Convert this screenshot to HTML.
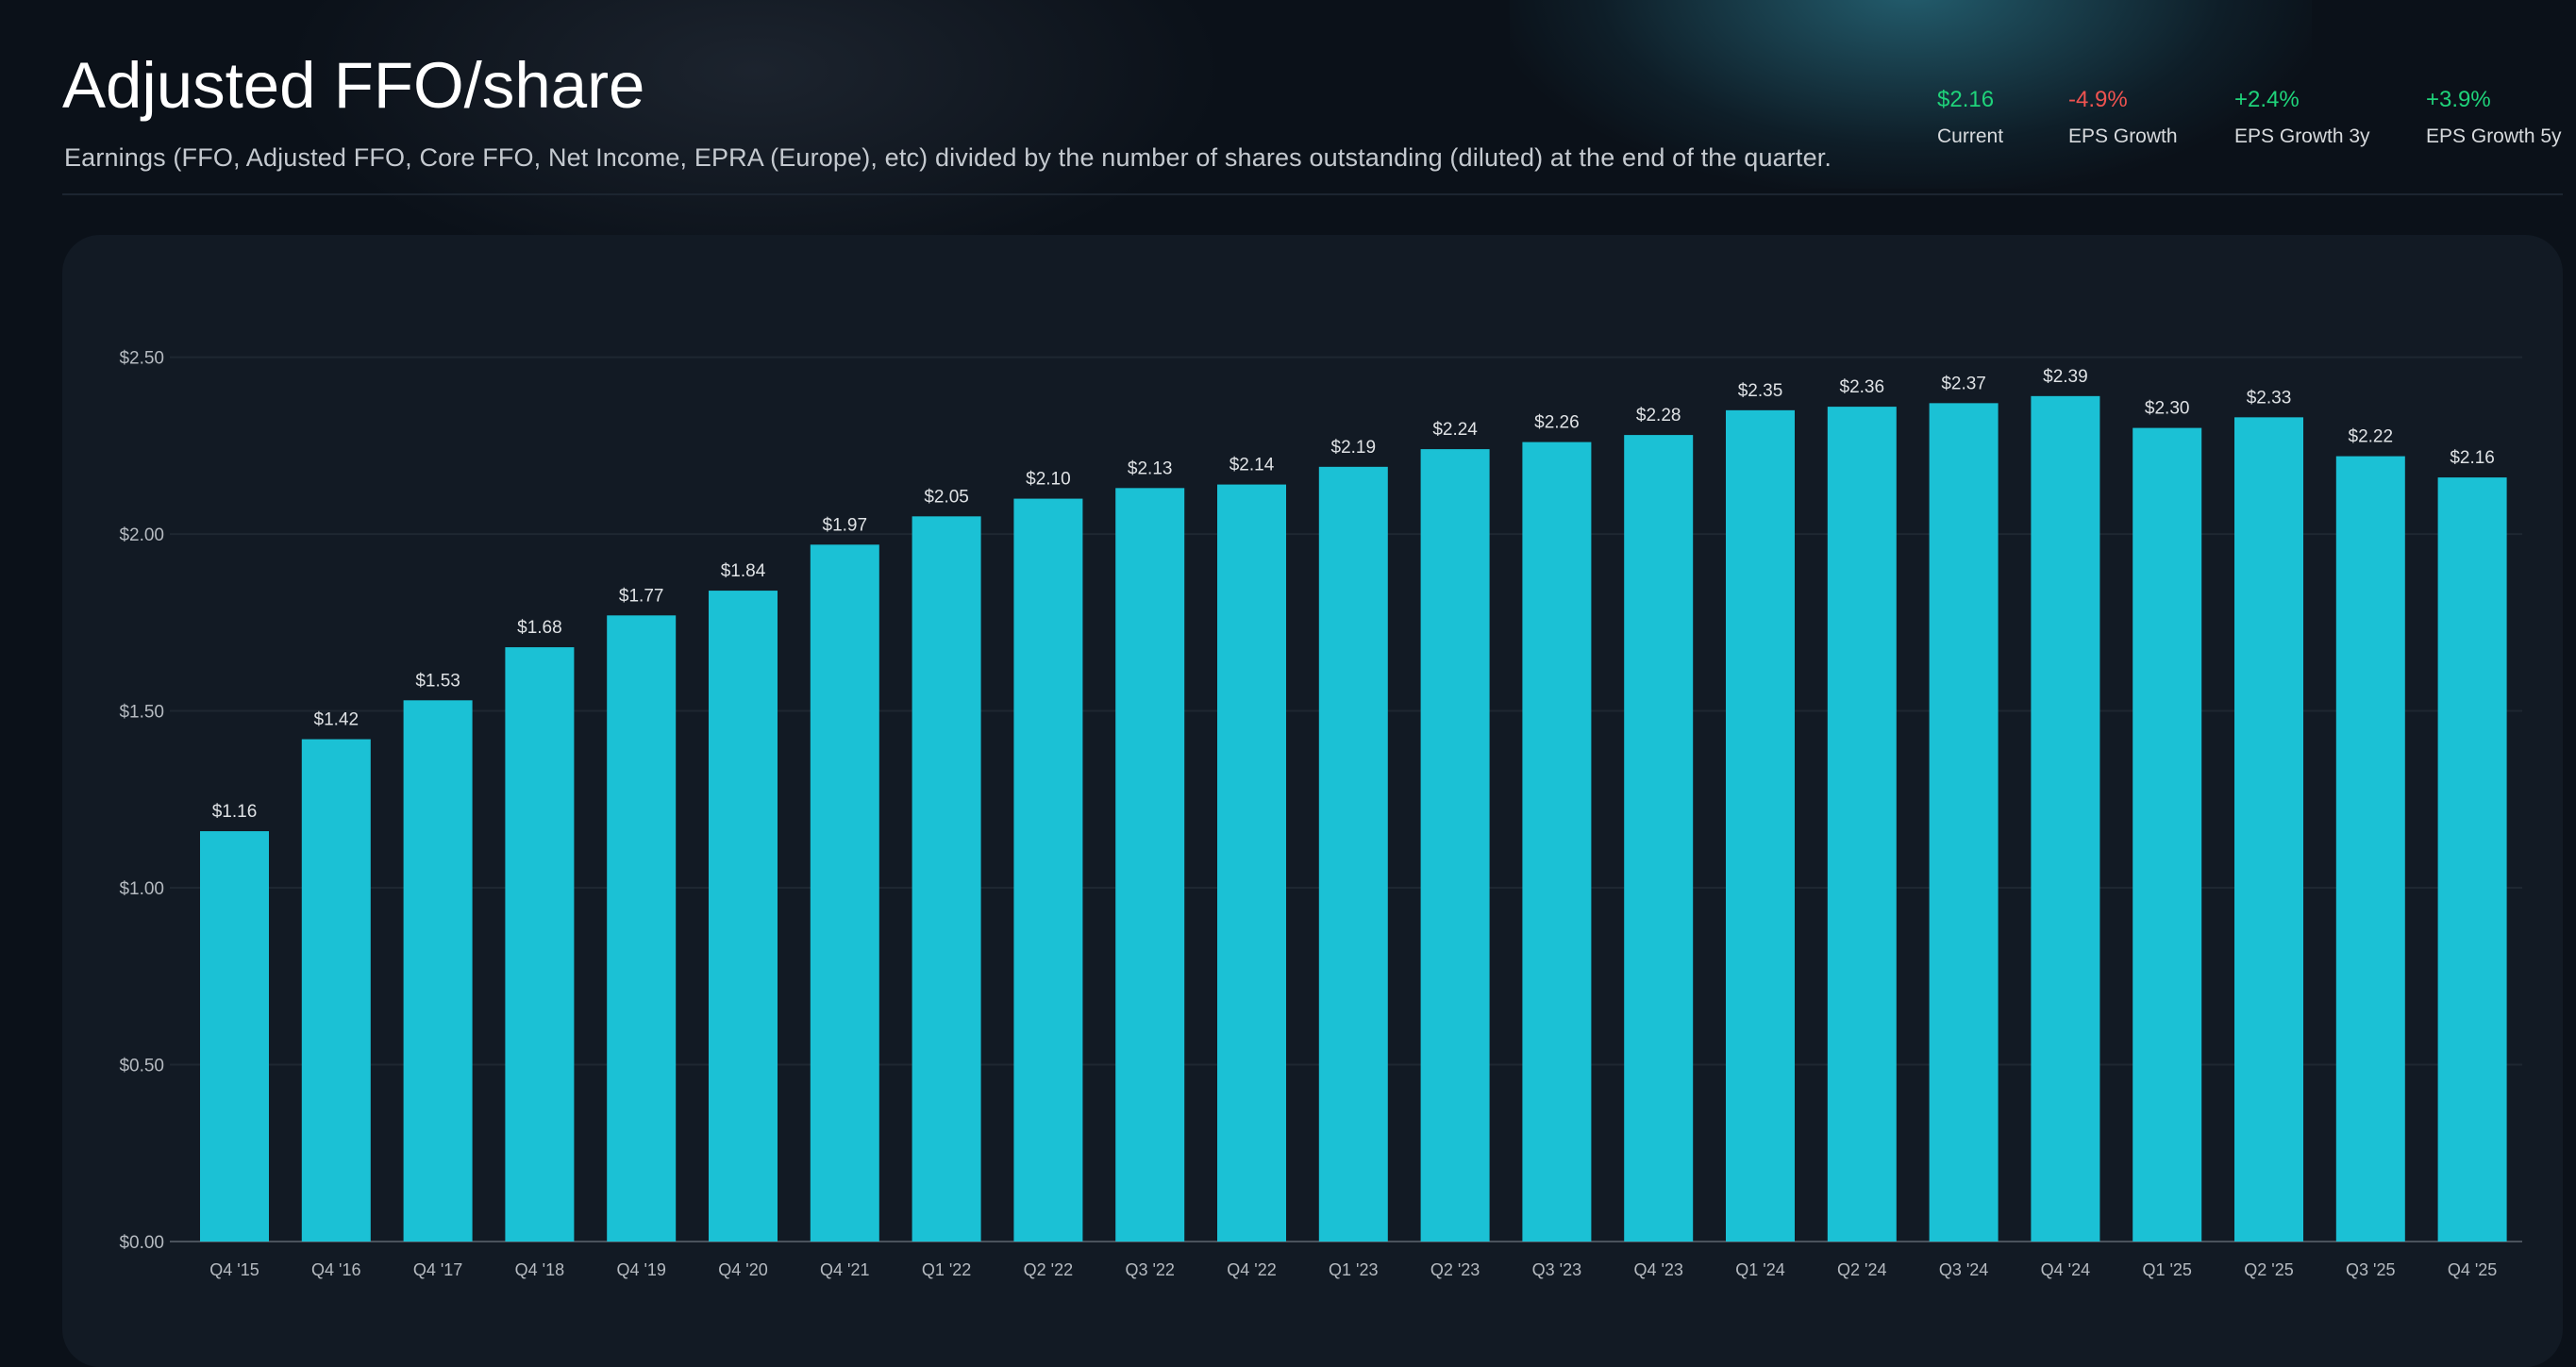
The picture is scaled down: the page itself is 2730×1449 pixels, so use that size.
<!DOCTYPE html>
<html><head><meta charset="utf-8"><style>
html,body{margin:0;padding:0;}
body{width:2730px;height:1412px;overflow:hidden;background:#0b1119;font-family:"Liberation Sans",sans-serif;position:relative;}
.glow{position:absolute;pointer-events:none;}
#title{position:absolute;left:66px;top:51px;font-size:69px;color:#fff;margin:0;font-weight:normal;}
#sub{position:absolute;left:68px;top:152px;font-size:27px;letter-spacing:0.15px;color:#c4c9cf;}
.stat{position:absolute;top:92px;}
.stat .v{font-size:24px;}
.stat .l{font-size:21px;color:#d7dadd;margin-top:13px;}
#divider{position:absolute;left:66px;right:14px;top:205px;height:2px;background:#1c2530;}
#card{position:absolute;left:66px;top:249px;width:2650px;height:1200px;background:#121a24;border-radius:40px;}
svg{position:absolute;left:0;top:0;}
</style></head><body>
<div class="glow" style="left:1600px;top:-220px;width:850px;height:420px;background:radial-gradient(ellipse at center,rgba(45,125,145,0.7),rgba(22,60,75,0.3) 55%,rgba(0,0,0,0) 75%);"></div>
<div class="glow" style="left:300px;top:-150px;width:1000px;height:450px;background:radial-gradient(ellipse at center,rgba(60,70,85,0.35),rgba(0,0,0,0) 70%);"></div>
<h1 id="title">Adjusted FFO/share</h1>
<div id="sub">Earnings (FFO, Adjusted FFO, Core FFO, Net Income, EPRA (Europe), etc) divided by the number of shares outstanding (diluted) at the end of the quarter.</div>
<div class="stat" style="left:2053px"><div class="v" style="color:#1fd37a">$2.16</div><div class="l">Current</div></div>
<div class="stat" style="left:2192px"><div class="v" style="color:#ef5350">-4.9%</div><div class="l">EPS Growth</div></div>
<div class="stat" style="left:2368px"><div class="v" style="color:#1fd37a">+2.4%</div><div class="l">EPS Growth 3y</div></div>
<div class="stat" style="left:2571px"><div class="v" style="color:#1fd37a">+3.9%</div><div class="l">EPS Growth 5y</div></div>
<div id="divider"></div>
<div id="card"></div>
<svg id="chart" width="2730" height="1412"></svg>
<script>
const categories=["Q4 '15","Q4 '16","Q4 '17","Q4 '18","Q4 '19","Q4 '20","Q4 '21","Q1 '22","Q2 '22","Q3 '22","Q4 '22","Q1 '23","Q2 '23","Q3 '23","Q4 '23","Q1 '24","Q2 '24","Q3 '24","Q4 '24","Q1 '25","Q2 '25","Q3 '25","Q4 '25"];
const values=[1.16,1.42,1.53,1.68,1.77,1.84,1.97,2.05,2.10,2.13,2.14,2.19,2.24,2.26,2.28,2.35,2.36,2.37,2.39,2.30,2.33,2.22,2.16];
const yTicks=[0,0.5,1,1.5,2,2.5];
const NS="http://www.w3.org/2000/svg";
const svg=document.getElementById('chart');
const x0=180,x1=2673,y0=1316,yTop=378.6,yMax=2.5;
const step=107.8,firstCenter=248.5,bw=73;
function yScale(v){return y0-(v/yMax)*(y0-yTop);}
function xScale(i){return firstCenter+i*step;}
function mk(t,a){const e=document.createElementNS(NS,t);for(const k in a)e.setAttribute(k,a[k]);svg.appendChild(e);return e;}
yTicks.forEach(t=>{
  const y=yScale(t);
  const g=mk('line',{x1:x0,x2:x1,y1:y,y2:y,stroke:t===0?'#4a525c':'#1e2731','stroke-width':2});
  
  
  const l=mk('text',{x:174,y:y+7,'text-anchor':'end',fill:'#b5bac0','font-size':19,'font-family':'Liberation Sans, sans-serif'});
  l.textContent='$'+t.toFixed(2);
  
  
});
values.forEach((v,i)=>{
  const cx=xScale(i),y=yScale(v);
  const r=mk('rect',{x:cx-bw/2,y:y,width:bw,height:y0-y,fill:'#1bc1d5'});
  
  
  const t=mk('text',{x:cx,y:y-15,'text-anchor':'middle',fill:'#dfe2e5','font-size':19,'font-family':'Liberation Sans, sans-serif'});
  t.textContent='$'+v.toFixed(2);
  
  
  const c=mk('text',{x:cx,y:1352,'text-anchor':'middle',fill:'#b5bac0','font-size':18,'font-family':'Liberation Sans, sans-serif'});
  c.textContent=categories[i];
  
  
});
</script>
</body></html>
